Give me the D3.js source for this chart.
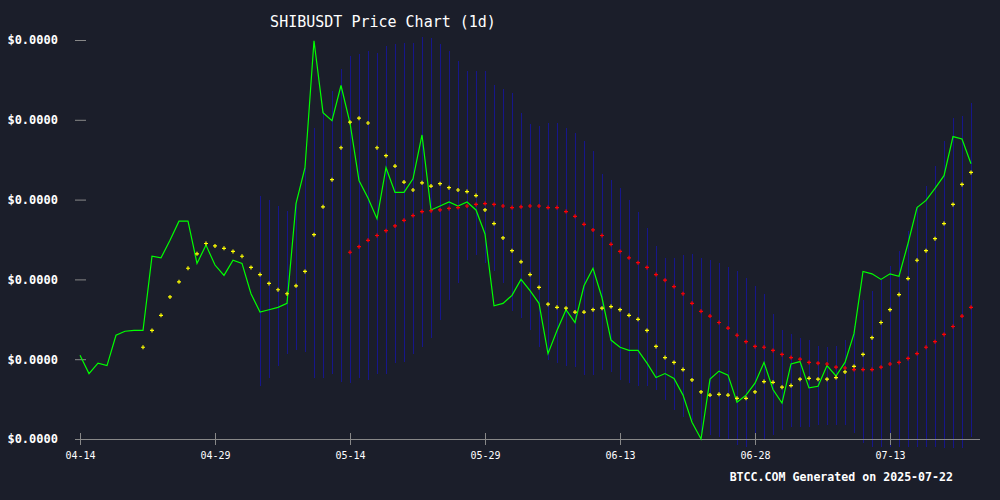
<!DOCTYPE html>
<html><head><meta charset="utf-8">
<script src="https://cdn.jsdelivr.net/npm/d3@7"></script>
<style>body{margin:0;background:#1b1e2a}svg{display:block}</style>
</head><body><svg id="c" width="1000" height="500"></svg>
<script>
// prices in units of 1e-8 USDT
const startDate = "2025-04-14";
const closePrice = [1205,1182,1195,1192,1230,1235,1236,1236,1329,1327,1349,1373,1373,1320,1343,1318,1305,1324,1320,1282,1259,1262,1265,1270,1395,1440,1599,1509,1499,1543,1496,1424,1402,1376,1440,1409,1409,1426,1481,1387,1392,1397,1392,1397,1387,1357,1267,1270,1280,1300,1286,1270,1207,1236,1262,1246,1292,1314,1277,1224,1215,1211,1211,1195,1177,1182,1176,1155,1121,1100,1175,1185,1180,1146,1155,1170,1196,1162,1145,1194,1197,1164,1166,1192,1179,1196,1232,1310,1307,1300,1307,1304,1345,1390,1399,1414,1430,1479,1476,1445];
const maShortStart = 7;
const maShort = [1215,1236,1255,1278,1297,1314,1332,1345,1342,1339,1335,1329,1315,1306,1295,1287,1282,1292,1310,1356,1391,1425,1465,1497,1502,1496,1465,1455,1442,1422,1412,1421,1417,1420,1415,1412,1410,1405,1387,1370,1352,1336,1322,1306,1290,1269,1265,1264,1259,1259,1262,1264,1266,1262,1255,1250,1236,1216,1202,1196,1187,1174,1159,1155,1156,1155,1151,1151,1159,1172,1171,1165,1167,1175,1176,1175,1175,1177,1184,1191,1206,1227,1246,1262,1281,1301,1324,1336,1351,1370,1394,1419,1434];
const maLongStart = 30;
const maLong = [1334,1341,1349,1355,1361,1367,1374,1380,1385,1386,1387,1389,1390,1392,1394,1395,1394,1392,1390,1391,1392,1392,1390,1390,1385,1379,1369,1362,1355,1344,1335,1327,1321,1315,1306,1299,1291,1282,1270,1260,1254,1246,1239,1230,1222,1216,1215,1211,1206,1202,1200,1196,1195,1194,1190,1189,1187,1187,1187,1190,1194,1196,1201,1207,1215,1222,1231,1241,1254,1265];
const bandStart = 20;
const bandUpper = [1405,1399,1392,1386,1399,1440,1490,1511,1536,1564,1580,1583,1586,1584,1592,1595,1596,1596,1604,1603,1595,1586,1574,1561,1561,1561,1543,1539,1533,1508,1495,1492,1496,1496,1490,1484,1474,1461,1432,1424,1414,1399,1384,1364,1342,1327,1327,1330,1332,1327,1324,1320,1315,1311,1302,1292,1282,1257,1236,1232,1227,1224,1217,1215,1217,1224,1242,1274,1286,1299,1317,1336,1361,1392,1417,1442,1474,1502,1505,1521];
const bandLower = [1167,1177,1192,1207,1211,1209,1176,1177,1182,1171,1170,1176,1174,1182,1182,1195,1196,1207,1215,1227,1249,1274,1295,1324,1330,1321,1311,1295,1261,1252,1236,1215,1199,1195,1192,1190,1180,1180,1186,1184,1174,1170,1167,1166,1161,1149,1136,1127,1124,1107,1105,1102,1099,1092,1090,1095,1099,1105,1111,1115,1115,1115,1117,1117,1117,1117,1107,1095,1090,1090,1090,1090,1090,1090,1090,1090,1089,1089,1089,1102];
const yTicks = [1100,1200,1300,1400,1500,1600];
const xTicks = ["2025-04-14","2025-04-29","2025-05-14","2025-05-29","2025-06-13","2025-06-28","2025-07-13"];

const svg = d3.select("#c");
svg.append("rect").attr("width",1000).attr("height",500).attr("fill","#1b1e2a");
const parse = d3.utcParse("%Y-%m-%d");
const d0 = parse(startDate);
const day = i => d3.utcDay.offset(d0, i);
const x = d3.scaleUtc().domain([d0, day(99)]).range([80, 971]);
const y = d3.scaleLinear().domain([1100,1600]).range([439, 40]);
const font = "'DejaVu Sans Mono', monospace";

// bands as vertical lines
svg.append("g").attr("shape-rendering","crispEdges").selectAll("line").data(bandUpper).join("line")
  .attr("x1",(d,i)=>Math.round(x(day(bandStart+i)))+0.5).attr("x2",(d,i)=>Math.round(x(day(bandStart+i)))+0.5)
  .attr("y1",d=>y(d)).attr("y2",(d,i)=>y(bandLower[i]))
  .attr("stroke","#16168a").attr("stroke-width",1);

// y axis
const ya = svg.append("g").attr("transform","translate(86,0)")
  .call(d3.axisLeft(y).tickValues(yTicks).tickSize(11).tickFormat(()=>"$0.0000"));
ya.select(".domain").remove();
ya.selectAll("line").attr("stroke","#888");
ya.selectAll("text").attr("fill","#fff").attr("font-family",font).attr("font-weight","bold").attr("font-size",12).attr("x",-28);

// x axis
const xa = svg.append("g").attr("transform","translate(0,439)")
  .call(d3.axisBottom(x).tickValues(xTicks.map(parse)).tickSize(6).tickFormat(d3.utcFormat("%m-%d")));
xa.select(".domain").attr("stroke","#888").attr("d","M75,0.5H980");
xa.selectAll("line").attr("stroke","#888").attr("y1",-6).attr("y2",6);
xa.selectAll("text").attr("fill","#fff").attr("font-family",font).attr("font-size",10).attr("dy","1.1em");

// price line
svg.append("path").datum(closePrice)
  .attr("d", d3.line().x((d,i)=>x(day(i))).y(d=>y(d)))
  .attr("fill","none").attr("stroke","#00ff00").attr("stroke-width",1.2);

function crosses(data, start, color){
  svg.append("g").selectAll("path").data(data).join("path")
    .attr("transform",(d,i)=>`translate(${x(day(start+i))},${y(d)})`)
    .attr("d","M-2,0H2M0,-2V2").attr("stroke",color).attr("stroke-width",1.2);
}
crosses(maShort, maShortStart, "#ffff00");
crosses(maLong, maLongStart, "#ff0000");

svg.append("text").attr("x",383).attr("y",27).attr("text-anchor","middle")
  .attr("fill","#fff").attr("font-family",font).attr("font-size",15).text("SHIBUSDT Price Chart (1d)");
svg.append("text").attr("x",953).attr("y",481).attr("text-anchor","end")
  .attr("fill","#fff").attr("font-family",font).attr("font-weight","bold").attr("font-size",11.6).text("BTCC.COM Generated on 2025-07-22");
</script></body></html>
